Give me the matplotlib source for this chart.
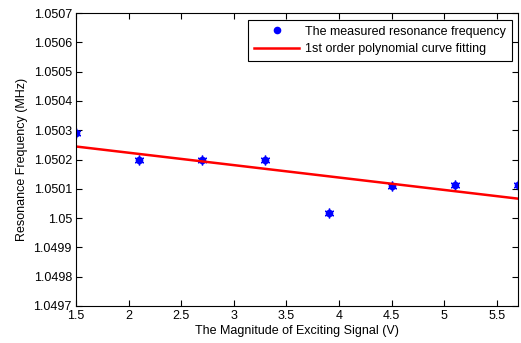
import numpy as np
import matplotlib
import matplotlib.pyplot as plt
from matplotlib.ticker import FuncFormatter

matplotlib.use('Agg')

# 測定データ
volts = [1.5, 2.1, 2.7, 3.3, 3.9, 4.5, 5.1, 5.7]
freq = [1.05029, 1.05020, 1.05020, 1.05020, 1.050018, 1.050111, 1.050112, 1.050112]
x_ticks = [1.5, 2, 2.5, 3, 3.5, 4, 4.5, 5, 5.5]
y_ticks = [1.0497, 1.0498, 1.0499, 1.05, 1.0501, 1.0502, 1.0503, 1.0504, 1.0505, 1.0506, 1.0507]

plt.rcParams['font.family'] = ['Liberation Sans', 'DejaVu Sans']
plt.rcParams['font.size'] = 9

fig = plt.figure(figsize=(5.21, 3.43), dpi=100)
ax = fig.add_axes([76/521, 1 - 306/343, (518-76)/521, (306-13)/343])

# 1次多項式フィッティング
p = np.polyfit(volts, freq, 1)
xf = np.array([min(volts), max(volts)])
ax.plot(volts, freq, linestyle='none', marker='o', markersize=5.5, color='#0000ff',
        markeredgewidth=0, label='The measured resonance frequency')
ax.plot(volts, freq, linestyle='none', marker=(6, 2, 0), markersize=7, color='#0000ff',
        markeredgewidth=1.0)
ax.plot(xf, np.polyval(p, xf), color='#ff0000', linewidth=1.8,
        label='1st order polynomial curve fitting')

ax.set_xlim(1.5, 5.7)
ax.set_ylim(1.0497, 1.0507)
ax.set_xticks(x_ticks)
ax.set_yticks(y_ticks)
ax.xaxis.set_major_formatter(FuncFormatter(lambda v, _: '%g' % v))
ax.yaxis.set_major_formatter(FuncFormatter(lambda v, _: '%g' % round(v, 4)))
ax.tick_params(direction='in', top=True, right=True, length=4, labelsize=9, pad=3)
for s in ax.spines.values():
    s.set_linewidth(0.8)

ax.set_xlabel('The Magnitude of Exciting Signal (V)', labelpad=2)
ax.set_ylabel('Resonance Frequency (MHz)', labelpad=4)

leg = ax.legend(loc='upper right', fancybox=False, edgecolor='black', framealpha=1,
                borderpad=0.45, handlelength=3.6, handletextpad=0.5, labelspacing=0.45,
                borderaxespad=0, bbox_to_anchor=(0.986, 0.976))
leg.get_frame().set_linewidth(0.8)

fig.savefig('out.png', dpi=100)
plt.close()
